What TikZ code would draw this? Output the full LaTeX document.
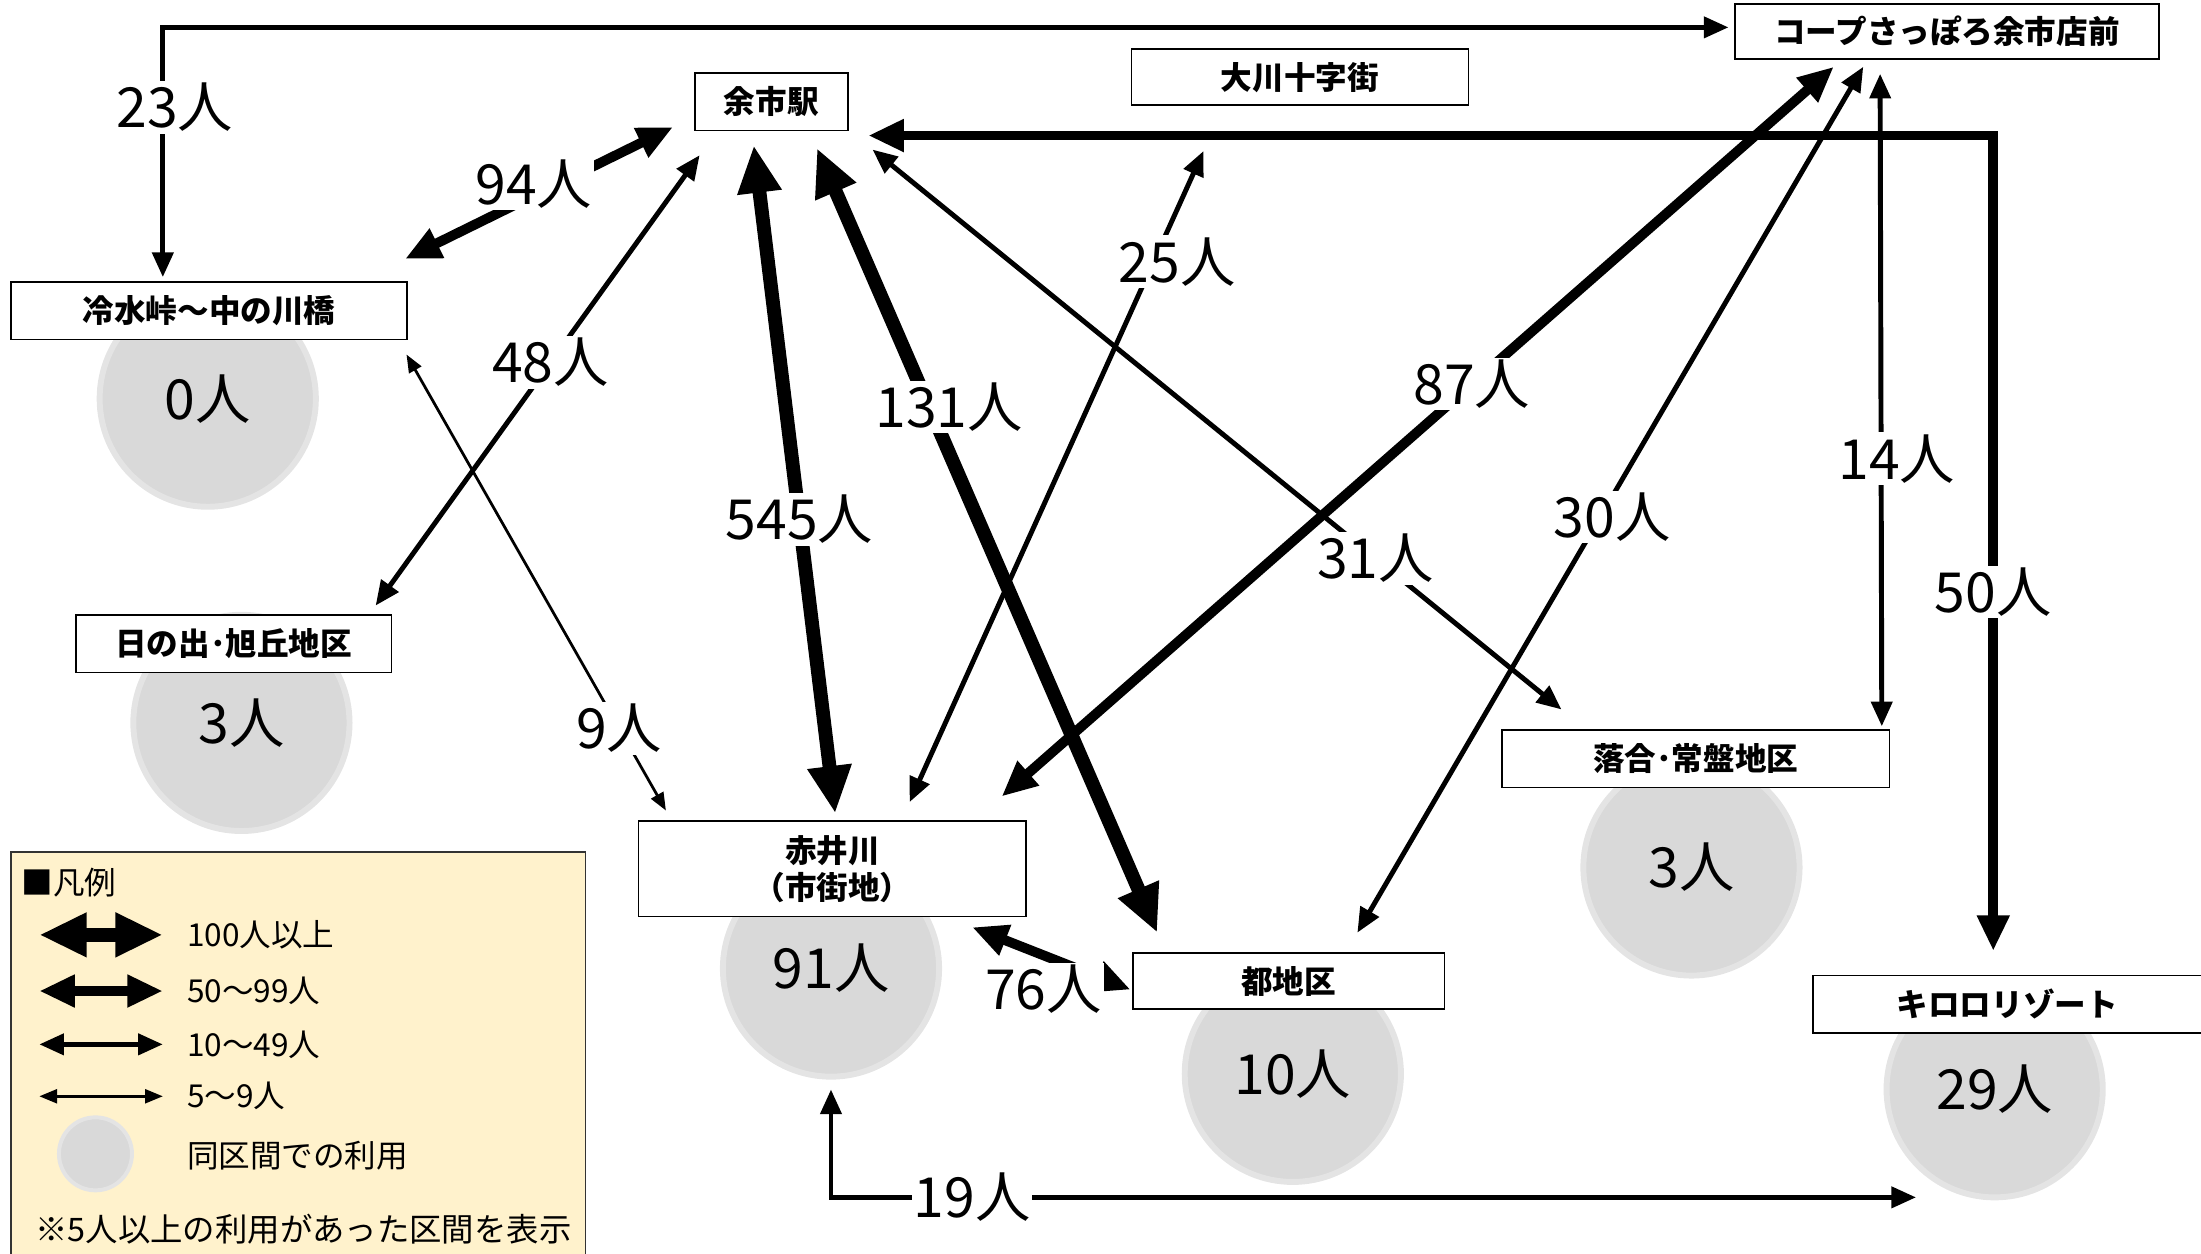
\documentclass[tikz,border=0pt]{standalone}
\usepackage{fontspec}
\setmainfont{Noto Sans CJK JP}
\usetikzlibrary{calc}
\usetikzlibrary{arrows.meta}
\definecolor{bubblegray}{HTML}{D9D9D9}
\definecolor{legendfill}{HTML}{FFF2CC}

\begin{document}
\begin{tikzpicture}[x=0.025cm, y=-0.025cm,
  box/.style={draw=black, line width=.8pt, fill=white, inner sep=0pt, align=center, font=\fontsize{16}{18.5}\selectfont\bfseries},
  bubble/.style={circle, fill=bubblegray, draw=bubblegray!70, line width=3pt, minimum size=3.85cm, inner sep=0pt, font=\fontsize{28}{30}\selectfont},
  num/.style={fill=white, inner sep=1pt, font=\fontsize{28}{30}\selectfont},
  legtext/.style={anchor=west, inner sep=0pt, font=\fontsize{16}{18}\selectfont},
  w100/.style={line width=7pt, <->, >={Triangle[width=21pt,length=24pt]}},
  w50/.style={line width=5pt, <->, >={Triangle[width=15.5pt,length=18pt]}},
  w10/.style={line width=2.5pt, <->, >={Triangle[width=10.5pt,length=12.5pt]}},
  w5/.style={line width=1.4pt, <->, >={Triangle[width=7pt,length=9pt]}}
]
\useasboundingbox (0,0) rectangle (1568,893);

\node[bubble] (b-hiyamizu) at (148,284) {0人};
\node[bubble] (b-hinode) at (172,515) {3人};
\node[bubble] (b-akai) at (592,690) {91人};
\node[bubble] (b-miyako) at (921,765) {10人};
\node[bubble] (b-ochiai) at (1205,618) {3人};
\node[bubble] (b-kiroro) at (1421,776) {29人};

\node[box, minimum width=2.725cm, minimum height=1.025cm] (yoichi) at (549.5,72.5) {余市駅};
\node[box, minimum width=6cm, minimum height=1cm] (okawa) at (926,55) {大川十字街};
\node[box, minimum width=7.55cm, minimum height=.975cm] (coop) at (1387,22.5) {コープさっぽろ余市店前};
\node[box, minimum width=7.05cm, minimum height=1.025cm] (hiyamizu) at (149,221.5) {冷水峠～中の川橋};
\node[box, minimum width=5.625cm, minimum height=1.025cm] (hinode) at (166.5,458.5) {日の出･旭丘地区};
\node[box, minimum width=6.9cm, minimum height=1.7cm] (akaigawa) at (593,619) {赤井川\\（市街地）};
\node[box, minimum width=5.55cm, minimum height=1cm] (miyako) at (918,699) {都地区};
\node[box, minimum width=6.9cm, minimum height=1.025cm] (ochiai) at (1208,540.5) {落合･常盤地区};
\node[box, minimum width=6.925cm, minimum height=1.025cm] (kiroro) at (1430,715.5) {キロロリゾート};

\draw[w10] ($(hiyamizu.north)+(-33,-3)$) |- node[num, pos=.34, xshift=6pt] (l23) {23人} ($(coop.west)+(-4,-3)$);
\draw[w50] ($(yoichi.south west)+(-15,-3)$) -- node[num, pos=.52, yshift=6pt] (l94) {94人} ($(hiyamizu.north east)+(-2,-16)$);
\draw[w10] ($(yoichi.south west)+(4,17)$) -- node[num, pos=.46] (l48) {48人} ($(hinode.north east)+(-12,-6)$);
\draw[w100] ($(yoichi.south)+(-12.5,10)$) -- node[num, pos=.56] (l545) {545人} ($(akaigawa.north)+(2,-5)$);
\draw[w100] ($(yoichi.south)+(32.5,12)$) -- node[num, pos=.33, xshift=10pt] (l131) {131人} ($(miyako.north west)+(18,-14)$);
\draw[w10] ($(yoichi.south east)+(17,13)$) -- node[num, pos=.73] (l31) {31人} ($(ochiai.north west)+(43,-14)$);
\draw[w50] ($(yoichi.south east)+(14,3)$) -| node[num, pos=.78] (l50) {50人} ($(kiroro.north)+(-10,-17)$);
\draw[w5] ($(hiyamizu.south east)+(-1,10)$) -- node[num, pos=.82] (l9) {9人} ($(akaigawa.north west)+(20,-7)$);
\draw[w10] ($(okawa.south west)+(52,32)$) -- node[num, pos=.17, xshift=12pt] (l25) {25人} ($(akaigawa.north)+(55,-13)$);
\draw[w50] ($(coop.south west)+(71,5)$) -- node[num, pos=.435] (l87) {87人} ($(akaigawa.north east)+(-18,-17)$);
\draw[w10] ($(coop.south west)+(92,5)$) -- node[num, pos=.52, xshift=6pt] (l30) {30人} ($(miyako.north)+(49,-14)$);
\draw[w10] ($(coop.south west)+(104,10)$) -- node[num, pos=.59, xshift=8pt] (l14) {14人} ($(ochiai.north east)+(-6,-2)$);
\draw[w50] ($(akaigawa.south east)+(-39,7)$) -- node[num, pos=.45, yshift=-17pt] (l76) {76人} ($(miyako.west)+(-1,6)$);
\draw[w10] ($(b-akai.south)+(0,7)$) |- node[num, pos=.565] (l19) {19人} ($(b-kiroro.center)+(-56,77)$);

\draw[draw=black!80, line width=.8pt, fill=legendfill] (8,607) rectangle (417,900);
\node[legtext] (leg-title) at (15,629) {■凡例};
\foreach \s/\t/\y in {w100/100人以上/666, w50/50～99人/706, w10/10～49人/744, w5/5～9人/781} {
 \coordinate (la-\s) at (28,\y);
 \coordinate (lb-\s) at (116,\y);
 \draw[\s] (la-\s) -- (lb-\s);
 \node[legtext] (lt-\s) at (133,\y) {\t};
}
\node[bubble, minimum size=1.3cm, line width=2pt] (leg-bubble) at (68,822) {};
\node[legtext] (leg-same) at (133,823) {同区間での利用};
\node[legtext, font=\fontsize{16.4}{19}\selectfont] (leg-note) at (25,876) {※5人以上の利用があった区間を表示};
\end{tikzpicture}
\end{document}
